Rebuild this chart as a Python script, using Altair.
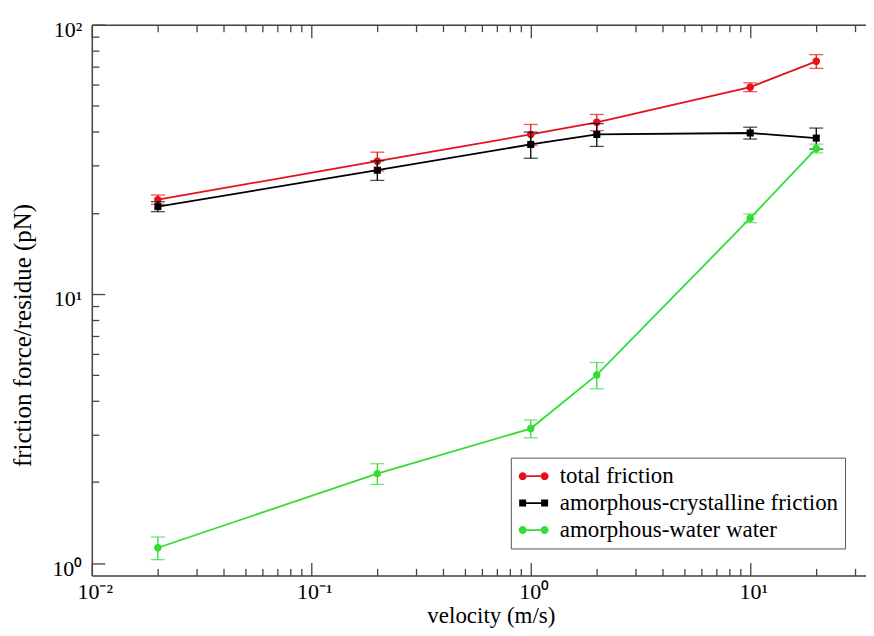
import altair as alt
import pandas as pd

# ---- data ----
velocity = [0.02, 0.2, 1, 2, 10, 20]
total = [22.4, 31.1, 39.1, 43.4, 58.6, 73.1]
total_err = [0.9, 2.5, 3.5, 3.0, 2.2, 4.3]
cryst = [21.1, 28.8, 35.9, 39.1, 39.6, 37.9]
cryst_err = [0.9, 2.4, 4.0, 3.8, 2.0, 3.4]
water = [1.14, 2.15, 3.16, 5.0, 19.1, 34.7]
water_err = [0.11, 0.19, 0.24, 0.56, 0.7, 1.3]

series_names = ["total friction", "amorphous-crystalline friction", "amorphous-water water"]
series_colors = ["#e3121b", "#000000", "#33dd33"]
series_shapes = ["circle", "square", "circle"]

x_major = [0.01, 0.1, 1, 10]
x_minor = [2e-2, 3e-2, 4e-2, 5e-2, 6e-2, 7e-2, 8e-2, 9e-2,
           0.2, 0.3, 0.4, 0.5, 0.6, 0.7, 0.8, 0.9,
           2, 3, 4, 5, 6, 7, 8, 9, 20, 30]
y_major = [1, 10, 100]
y_minor = [2, 3, 4, 5, 6, 7, 8, 9, 20, 30, 40, 50, 60, 70, 80, 90]

X_DOMAIN = [0.01, 33.7]
Y_DOMAIN = [0.9, 100]
W, H = 776, 552

rows = []
for name, vals, errs in zip(series_names, [total, cryst, water], [total_err, cryst_err, water_err]):
    for v, val, e in zip(velocity, vals, errs):
        rows.append({"series": name, "velocity": v, "value": val, "lo": val - e, "hi": val + e})
df = pd.DataFrame(rows)

FONT = "Liberation Serif"
AX = "#444444"
xs = alt.Scale(type="log", domain=X_DOMAIN, nice=False, zero=False)
ys = alt.Scale(type="log", domain=Y_DOMAIN, nice=False, zero=False)

x_label_expr = ("datum.value < 0.05 ? '10\u207b\u00b2' : datum.value < 0.5 ? '10\u207b\u00b9' : "
                "datum.value < 5 ? '10\u2070' : '10\u00b9'")
y_label_expr = "datum.value < 5 ? '10\u2070' : datum.value < 50 ? '10\u00b9' : '10\u00b2'"

ax_x_main = alt.Axis(orient="bottom", values=x_major, labelExpr=x_label_expr, ticks=False,
                     domain=True, domainColor=AX, domainWidth=1.5, grid=False,
                     title="velocity (m/s)", titleFont=FONT, titleFontSize=23, titleFontWeight="normal",
                     titleColor="black", titleX=400, titleY=47, titleBaseline="alphabetic",
                     titleAlign="center",
                     labelFont=FONT, labelFontSize=22, labelColor="black",
                     labelPadding=6, labelFlush=False, labelOverlap=False, labelOffset=3)
ax_y_main = alt.Axis(orient="left", values=y_major, labelExpr=y_label_expr, ticks=False,
                     domain=True, domainColor=AX, domainWidth=1.5, grid=False,
                     title="friction force/residue (pN)", titleFont=FONT, titleFontSize=25,
                     titleFontWeight="normal", titleColor="black", titleX=-61, titleY=311,
                     titleAngle=270, titleBaseline="alphabetic", titleAlign="center",
                     labelFont=FONT, labelFontSize=22,
                     labelColor="black", labelPadding=10, labelFlush=False,
                     labelOverlap=False, labelOffset=5)


def tick_axis(orient, offset, values, size, domain=False):
    return alt.Axis(orient=orient, offset=offset, values=values, labels=False, ticks=True,
                    tickSize=size, tickColor=AX, tickWidth=1.3, domain=domain, domainColor=AX,
                    domainWidth=1.5, grid=False, title=None)


MAJ, MIN = 13, 7
ax_x_bot_major = tick_axis("top", -H, x_major, MAJ)
ax_x_bot_minor = tick_axis("top", -H, x_minor, MIN)
ax_x_top_major = tick_axis("bottom", -H, x_major, MAJ, domain=True)
ax_x_top_minor = tick_axis("bottom", -H, x_minor, MIN)
ax_y_left_major = tick_axis("right", -W, y_major, MAJ)
ax_y_left_minor = tick_axis("right", -W, y_minor, MIN)

layers = []
x_axes = {("rule", 0): ax_x_main, ("rule", 1): ax_x_bot_major, ("rule", 2): ax_x_bot_minor,
          ("line", 0): ax_x_top_major, ("line", 1): ax_x_top_minor}
y_axes = {("rule", 0): ax_y_main, ("rule", 1): ax_y_left_major, ("rule", 2): ax_y_left_minor}

for i, (name, color, shape) in enumerate(zip(series_names, series_colors, series_shapes)):
    base = alt.Chart(df).transform_filter(alt.datum.series == name)
    rule = base.mark_rule(color=color, strokeWidth=1.3).encode(
        x=alt.X("velocity:Q", scale=xs, axis=x_axes.get(("rule", i), None)),
        y=alt.Y("lo:Q", scale=ys, axis=y_axes.get(("rule", i), None)),
        y2="hi:Q",
    )
    cap_lo = base.mark_tick(color=color, orient="horizontal", size=14, thickness=1.3).encode(
        x=alt.X("velocity:Q", scale=xs, axis=None),
        y=alt.Y("lo:Q", scale=ys, axis=None),
    )
    cap_hi = base.mark_tick(color=color, orient="horizontal", size=14, thickness=1.3).encode(
        x=alt.X("velocity:Q", scale=xs, axis=None),
        y=alt.Y("hi:Q", scale=ys, axis=None),
    )
    line = base.mark_line(color=color, strokeWidth=1.8).encode(
        x=alt.X("velocity:Q", scale=xs, axis=x_axes.get(("line", i), None)),
        y=alt.Y("value:Q", scale=ys, axis=None),
    )
    pts = base.mark_point(color=color, filled=True, opacity=1, shape=shape,
                          size=55 if shape == "circle" else 50).encode(
        x=alt.X("velocity:Q", scale=xs, axis=None),
        y=alt.Y("value:Q", scale=ys, axis=None),
    )
    layers += [rule, cap_lo, cap_hi, line, pts]


# legend symbols: line with a marker at each end (custom paths, units of sqrt(size)/2)
def seg(a, b, t):
    return f"M{a},{-t}L{b},{-t}L{b},{t}L{a},{t}Z"


def circ(c, r):
    return f"M{c - r},0A{r},{r} 0 1,1 {c + r},0A{r},{r} 0 1,1 {c - r},0Z"


def sq(c, h):
    return f"M{c - h},{-h}L{c + h},{-h}L{c + h},{h}L{c - h},{h}Z"


c1, c2 = -0.53, 1.23
t = 0.07
r, h = 0.32, 0.28
p_circle = seg(c1 + r, c2 - r, t) + circ(c1, r) + circ(c2, r)
p_square = seg(c1 + h, c2 - h, t) + sq(c1, h) + sq(c2, h)
legend_paths = [p_circle, p_square, p_circle]

leg = alt.Legend(orient="none", legendX=420, legendY=434, title=None, labelFont=FONT,
                 labelFontSize=23, labelColor="black", labelLimit=500, symbolSize=625,
                 padding=6, strokeColor="#555555", fillColor="white", rowPadding=2,
                 labelOffset=18, symbolStrokeWidth=0, symbolOpacity=1, offset=0)

legend_layer = alt.Chart(df).transform_filter("false").mark_point(filled=True, opacity=1).encode(
    color=alt.Color("series:N", scale=alt.Scale(domain=series_names, range=series_colors), legend=leg),
    shape=alt.Shape("series:N", scale=alt.Scale(domain=series_names, range=legend_paths), legend=leg),
)
layers.append(legend_layer)

chart = alt.layer(*layers).resolve_scale(x="shared", y="shared").resolve_axis(
    x="independent", y="independent"
).properties(
    width=W, height=H,
    autosize=alt.AutoSizeParams(type="none"),
    padding={"left": 84, "top": 16, "right": 0, "bottom": 52},
).configure_view(stroke=None).configure(background="white")

chart.save("out.html", embed_options={"renderer": "svg", "actions": False})
